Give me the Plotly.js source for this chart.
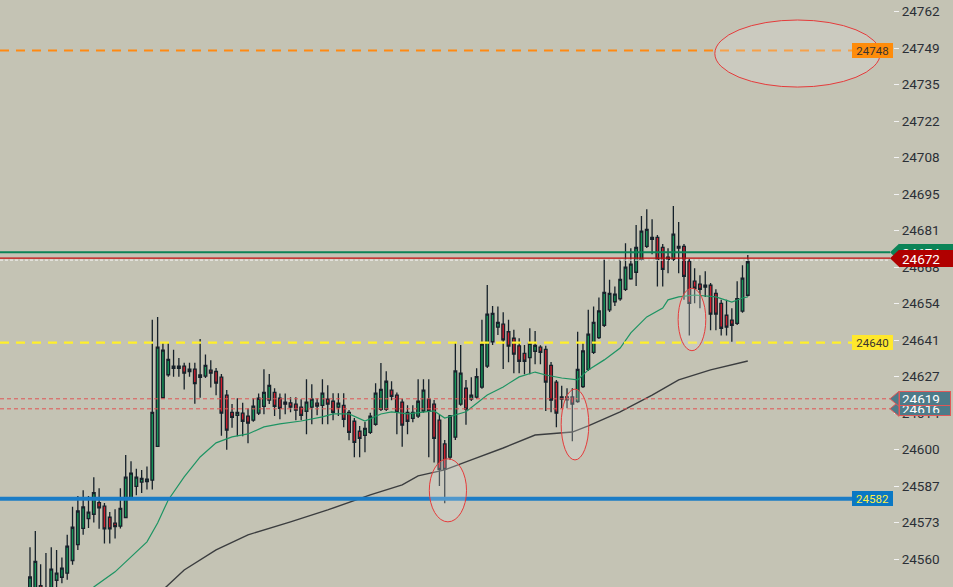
<!DOCTYPE html>
<html><head><meta charset="utf-8">
<script src="https://cdn.plot.ly/plotly-3.0.1.min.js"></script>
<style>html,body{margin:0;padding:0;background:#c4c3b4;overflow:hidden}#chart{width:953px;height:587px;}</style>
</head><body><div id="chart"></div>
<script>
// ---- OHLC data ----
const open = [24546.3,24548.1,24549.7,24545.0,24547.0,24551.7,24552.8,24554.3,24559.0,24564.9,
24570.9,24574.5,24576.1,24580.4,24579.1,24575.0,24572.8,24571.7,24574.9,24581.8,
24586.4,24588.0,24588.2,24588.7,24601.2,24619.2,24627.7,24630.1,24630.1,24630.9,
24628.9,24629.8,24626.7,24627.2,24629.4,24628.9,24626.8,24620.2,24613.8,24612.7,
24613.5,24612.4,24610.9,24613.5,24616.0,24618.3,24621.2,24619.0,24617.6,24617.3,
24616.8,24615.7,24614.2,24615.7,24617.2,24616.4,24618.7,24617.9,24615.7,24616.4,
24613.8,24610.5,24606.8,24605.3,24606.4,24609.4,24614.9,24614.9,24622.0,24620.2,
24617.6,24613.8,24611.6,24612.4,24614.3,24618.7,24616.8,24610.9,24602.1,24597.2,
24604.6,24616.8,24622.7,24618.7,24619.4,24623.1,24630.9,24639.9,24645.3,24646.4,
24643.6,24641.2,24638.4,24635.6,24634.0,24636.4,24637.9,24637.1,24631.2,24625.0,
24619.5,24619.5,24619.5,24617.8,24623.3,24629.7,24636.0,24641.4,24646.0,24651.7,
24654.7,24655.8,24659.3,24663.2,24665.6,24670.4,24675.2,24678.5,24678.5,24674.8,
24671.2,24670.4,24675.2,24675.2,24669.7,24662.3,24661.2,24660.1,24660.8,24657.8,
24654.1,24649.7,24647.9,24646.7,24651.2,24657.1];
const high = [24563.9,24569.9,24557.6,24561.8,24563.9,24562.9,24560.1,24568.5,24578.9,24582.9,
24585.0,24582.9,24589.8,24585.7,24580.3,24576.9,24578.0,24585.7,24598.0,24595.7,
24592.9,24592.5,24593.8,24648.0,24649.1,24639.7,24639.7,24636.9,24633.9,24632.1,
24632.1,24632.1,24640.9,24635.2,24633.1,24630.2,24628.0,24622.1,24616.9,24619.0,
24617.3,24615.3,24619.0,24620.8,24629.7,24628.0,24622.7,24620.8,24620.8,24619.4,
24619.4,24618.6,24626.0,24624.2,24619.0,24626.0,24623.8,24620.9,24620.9,24620.9,
24614.7,24611.7,24608.7,24610.2,24613.6,24624.6,24632.0,24629.0,24625.3,24621.1,
24618.8,24616.4,24616.4,24626.0,24626.0,24626.0,24618.4,24612.8,24603.6,24612.8,
24639.4,24638.7,24625.8,24626.8,24630.1,24648.0,24660.9,24653.1,24652.9,24650.8,
24648.0,24644.3,24641.2,24638.7,24644.9,24643.9,24638.6,24638.4,24632.4,24625.8,
24623.6,24622.7,24622.7,24643.6,24639.4,24651.7,24652.9,24656.3,24670.2,24662.8,
24660.3,24670.2,24676.3,24674.5,24683.1,24686.4,24688.9,24685.2,24679.4,24676.1,
24674.5,24690.1,24684.2,24676.1,24670.5,24667.1,24664.5,24666.0,24661.6,24659.3,
24655.4,24655.4,24652.3,24662.3,24668.2,24672.0];
const low = [24544.4,24546.3,24544.0,24543.0,24545.0,24549.2,24550.6,24551.9,24557.4,24562.9,
24568.5,24571.0,24573.1,24570.7,24565.3,24565.3,24567.1,24570.8,24574.9,24581.8,
24583.1,24584.0,24585.3,24585.3,24601.2,24619.2,24627.0,24627.0,24627.0,24622.2,
24627.0,24617.0,24619.2,24626.5,24623.0,24620.1,24605.1,24600.0,24608.1,24605.0,
24605.0,24602.4,24610.3,24612.8,24613.1,24616.9,24612.4,24611.2,24613.1,24613.8,
24610.9,24610.9,24605.7,24609.4,24612.7,24609.4,24609.4,24610.9,24612.4,24608.3,
24603.5,24597.2,24597.2,24599.0,24605.8,24608.8,24614.3,24614.3,24618.3,24605.7,
24601.1,24605.7,24610.1,24611.7,24613.6,24597.2,24595.2,24586.6,24580.2,24596.2,
24603.6,24616.2,24609.2,24618.0,24618.8,24622.5,24630.2,24638.7,24642.4,24629.8,
24632.3,24628.3,24628.3,24627.9,24627.9,24631.6,24631.6,24614.3,24613.8,24608.3,
24615.3,24615.3,24603.1,24617.3,24622.8,24629.1,24635.4,24640.9,24645.4,24650.9,
24653.1,24655.1,24658.7,24662.8,24660.5,24669.8,24674.6,24672.3,24660.3,24660.3,
24665.2,24669.8,24665.2,24655.4,24642.2,24654.1,24652.3,24656.5,24644.2,24644.2,
24642.2,24642.2,24639.9,24646.1,24650.6,24656.6];
const close = [24552.9,24558.7,24546.0,24548.5,24555.8,24554.3,24556.2,24564.3,24571.3,24577.3,
24578.8,24576.9,24584.1,24578.5,24570.7,24570.7,24571.5,24578.3,24589.8,24591.3,
24589.8,24589.4,24589.1,24613.8,24637.9,24636.8,24633.4,24630.9,24630.9,24628.3,
24629.8,24624.4,24627.6,24631.2,24628.3,24624.6,24613.5,24607.2,24611.9,24613.8,
24610.5,24609.8,24616.1,24619.0,24621.2,24623.8,24616.0,24615.3,24616.8,24615.7,
24614.6,24612.7,24617.6,24618.7,24616.1,24620.9,24616.8,24613.8,24617.2,24611.2,
24606.4,24602.7,24604.2,24607.9,24612.4,24620.9,24622.3,24625.3,24619.7,24613.8,
24609.1,24610.5,24613.8,24617.9,24622.0,24614.2,24604.2,24592.7,24592.7,24612.5,
24629.1,24628.3,24615.0,24620.2,24627.0,24639.0,24650.1,24650.4,24647.1,24640.6,
24638.3,24635.3,24632.7,24632.7,24639.3,24638.6,24636.0,24625.0,24618.3,24613.5,
24618.7,24618.4,24616.8,24629.7,24636.5,24642.7,24647.1,24651.3,24658.2,24657.8,
24657.5,24663.0,24667.5,24668.6,24674.8,24680.8,24681.5,24677.8,24670.4,24666.7,
24670.4,24679.7,24674.5,24664.1,24654.1,24659.7,24659.3,24660.8,24650.1,24650.1,
24644.9,24645.3,24646.0,24655.8,24663.4,24669.5];

// ---- moving averages (bar index, value) ----
const maFastX = [11,12,16,22,24,26,29,32,35,38,41,44,47,51,55,57,60,62,63,66,68,71,76,78,80,82,86,89,92,95,97,100,103,105,108,111,113,116,119,120,122,125,129,132,134,135];
const maFastV = [24545,24549.2,24554.8,24565.9,24572.9,24581.4,24589.9,24597.3,24602.5,24604.7,
24605.8,24608.4,24609.5,24610.6,24612.1,24613.2,24613.2,24611.4,24610.6,24613.2,
24614.0,24613.2,24614.3,24611.7,24612.8,24614.0,24620.2,24623.2,24626.9,24628.7,
24627.6,24626.5,24625.8,24629.5,24633.2,24637.6,24643.2,24649.1,24652.4,24655.4,
24656.5,24657.2,24656.5,24654.6,24656.1,24656.5];
const maSlowX = [24,29,35,41,49,56,64,70,73,78,83,89,95,102,105,111,117,122,128,135];
const maSlowV = [24546.3,24555.5,24562.9,24568.5,24573.3,24577.7,24583.3,24587.0,24590.3,24592.5,
24596.2,24600.6,24605.4,24606.5,24608.8,24614.0,24620.2,24625.8,24629.5,24632.8];

// ---- axis ticks ----
const tickVals = [24762,24748.5,24735,24721.5,24708,24694.5,24681,24667.5,24654,24640.5,24627,24613.5,24600,24586.5,24573,24559.5];
const tickText = ['24762','24749','24735','24722','24708','24695','24681','24668','24654','24641','24627','24614','24600','24587','24573','24560'];

// ---- horizontal levels ----
const orangeLevel = 24747.6, orangeLabel = '24748';
const yellowLevel = 24639.6, yellowLabel = '24640';
const blueLevel = 24581.8, blueLabel = '24582';
const redDashLevels = [24615.1, 24618.8];
const redDashLabels = ['24616', '24619'];
const askLevel = 24673.0, askLabel = '24674';
const bidLevel = 24670.8, bidLabel = '24672';
const prevLevel = 24670.1;

// ---- marked regions (bar index / price) ----
const ellipseX0 = [128.8, 75.1, 99.9, 121.9];
const ellipseX1 = [159.9, 82.1, 105.1, 127.1];
const ellipseY0 = [24734.1, 24573.3, 24596.2, 24636.6];
const ellipseY1 = [24758.9, 24596.6, 24622.4, 24659.7];

// ---- build ----
const bars = open.map((_, i) => i);
const W = 893;               // plot width px
const P = v => v / W;        // px -> paper
const UNIT = 2.704;          // px per price unit

const traces = [
  {type:'candlestick', x:bars, open, high, low, close,
   increasing:{line:{color:'#16212a', width:1.3}, fillcolor:'#169659'},
   decreasing:{line:{color:'#16212a', width:1.3}, fillcolor:'#d11f2d'},
   whiskerwidth:0, hoverinfo:'skip'},
  {type:'scatter', mode:'lines', x:maFastX, y:maFastV, line:{color:'#1d9463', width:1.2}, hoverinfo:'skip'},
  {type:'scatter', mode:'lines', x:maSlowX, y:maSlowV, line:{color:'#3b3d3f', width:1.4}, hoverinfo:'skip'}
];

const shapes = [];
function hline(v, x1, color, width, dash){
  shapes.push({type:'line', xref:'paper', yref:'y', x0:0, x1:P(x1), y0:v, y1:v,
    line:{color, width, dash}, layer:'above'});
}
hline(orangeLevel, 852, '#ff8a12', 2, '9px,7px');
hline(yellowLevel, 852, '#fff02a', 2.2, '9px,7px');
redDashLevels.forEach(v => hline(v, 890, '#e05454', 1, '4px,3px'));
hline(blueLevel, 852, '#1a7cc6', 4, 'solid');
hline(askLevel, 890, '#0b8457', 2, 'solid');
hline(prevLevel, 890, '#f4f4f4', 1, '3px,2px');
hline(bidLevel, 890, '#c40c0c', 1.2, 'solid');

// tag tips
function tip(v, h, color, lineColor){
  shapes.push({type:'path', xref:'paper', yref:'y', layer:'above',
    path:`M ${P(890)} ${v} L ${P(899)} ${v + h} L ${P(899)} ${v - h} Z`,
    fillcolor:color, line:{color:lineColor || color, width: lineColor ? 1 : 0}});
}
const hTag = 8.5 / UNIT, hSlate = 7.5 / UNIT;
tip(redDashLevels[0], hSlate, '#4d7b89', '#e05858');
tip(redDashLevels[1], hSlate, '#4d7b89', '#e05858');
tip(askLevel, hTag, '#0b8457');
tip(bidLevel, hTag, '#b00000');

// ellipses
ellipseX0.forEach((x0, i) => {
  shapes.push({type:'circle', xref:'x', yref:'y', layer:'above',
    x0, x1:ellipseX1[i], y0:ellipseY0[i], y1:ellipseY1[i],
    line:{color:'#e53b3b', width:1}, fillcolor:'rgba(222,224,218,0.28)'});
});

const annotations = [];
function box(v, text, bg, fg, size, w, h){
  annotations.push({xref:'paper', yref:'y', x:P(852), y:v, xanchor:'left', yanchor:'middle',
    text, showarrow:false, bgcolor:bg, borderwidth:0, borderpad:0, width:w, height:h,
    align:'center', font:{family:'Roboto, Arial, sans-serif', size, color:fg}});
}
box(orangeLevel, orangeLabel, '#ff8c0a', '#3a3530', 11.5, 41, 15);
box(yellowLevel, yellowLabel, '#ffe82c', '#3a3530', 11.5, 41, 15);
box(blueLevel, blueLabel, '#0a78c4', '#ffee44', 11.5, 41, 15);

function tag(v, text, bg, border){
  annotations.push({xref:'paper', yref:'y', x:P(899), y:v, xanchor:'left', yanchor:'middle',
    text, showarrow:false, bgcolor:bg,
    bordercolor: border || bg, borderwidth: border ? 1 : 0,
    borderpad: border ? 2 : 3, width: border ? 46 : 48, height: border ? 9 : 11,
    align:'left', font:{family:'Roboto, Arial, sans-serif', size:13.5, color:'#ffffff'}});
}
tag(redDashLevels[0], redDashLabels[0], '#4d7b89', '#e05858');
tag(redDashLevels[1], redDashLabels[1], '#4d7b89', '#e05858');
tag(askLevel, askLabel, '#0b8457');
tag(bidLevel, bidLabel, '#b00000');

const layout = {
  width:953, height:587,
  margin:{l:0, r:60, t:0, b:0, pad:0},
  paper_bgcolor:'#c4c3b4', plot_bgcolor:'#c4c3b4',
  showlegend:false, boxgap:0.28,
  xaxis:{visible:false, range:[-5.642, 162.31], rangeslider:{visible:false}, fixedrange:true},
  yaxis:{side:'right', range:[24549.2, 24766.3], tickvals:tickVals, ticktext:tickText,
    showgrid:false, zeroline:false, showline:false, ticks:'outside', ticklen:5,
    tickcolor:'#f2f2f2', tickwidth:1,
    tickfont:{family:'Roboto, Arial, sans-serif', size:13.5, color:'#2b2f36'}, fixedrange:true},
  shapes, annotations
};
Plotly.newPlot('chart', traces, layout, {staticPlot:true, displayModeBar:false});
</script></body></html>
